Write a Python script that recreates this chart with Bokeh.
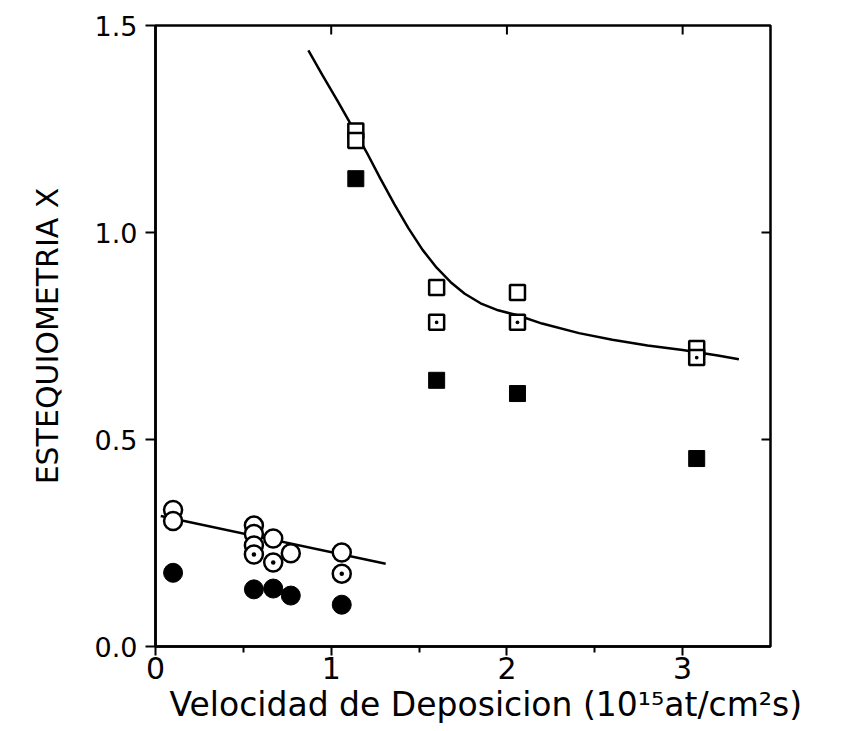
from bokeh.plotting import figure
from bokeh.models import Range1d, FixedTicker, Title
from bokeh.embed import file_html
from bokeh.resources import INLINE

# ---- data ----
open_circle_x = [0.10, 0.10, 0.56, 0.56, 0.56, 0.67, 0.77, 1.06]
open_circle_y = [0.330, 0.303, 0.292, 0.272, 0.244, 0.261, 0.225, 0.227]
dot_circle_x = [0.56, 0.67, 1.06]
dot_circle_y = [0.222, 0.203, 0.176]
filled_circle_x = [0.10, 0.56, 0.67, 0.77, 1.06]
filled_circle_y = [0.178, 0.138, 0.140, 0.123, 0.101]

open_square_x = [1.14, 1.14, 1.60, 2.06, 3.08]
open_square_y = [1.245, 1.222, 0.867, 0.855, 0.720]
dot_square_x = [1.60, 2.06, 3.08]
dot_square_y = [0.783, 0.783, 0.698]
filled_square_x = [1.14, 1.60, 2.06, 3.08]
filled_square_y = [1.130, 0.643, 0.611, 0.454]

# guide lines
lower_line_x = [0.03, 1.31]
lower_line_y = [0.315, 0.200]
curve_x = [0.87, 0.95, 1.04, 1.12, 1.20, 1.28, 1.36, 1.44, 1.52, 1.60, 1.68, 1.76,
           1.85, 1.95, 2.06, 2.20, 2.41, 2.60, 2.80, 3.00, 3.20, 3.32]
curve_y = [1.440, 1.380, 1.315, 1.255, 1.195, 1.130, 1.068, 1.010, 0.958, 0.915, 0.880, 0.852,
           0.829, 0.812, 0.800, 0.780, 0.757, 0.741, 0.727, 0.716, 0.703, 0.694]

x_ticks = [0, 1, 2, 3]
x_minor = [0.5, 1.5, 2.5]
top_ticks = [1, 2, 3]
y_ticks = [0.0, 0.5, 1.0, 1.5]
right_ticks = [0.5, 1.0]
y_tick_labels = {0.0: "0.0", 0.5: "0.5", 1.0: "1.0", 1.5: "1.5"}
x_title = "Velocidad de Deposicion (10\u00b9\u2075at/cm\u00b2s)"
y_title = "ESTEQUIOMETRIA X"

FONT = "DejaVu Sans"
X0, X1, Y0, Y1 = 0.0, 3.5, 0.0, 1.5

p = figure(width=854, height=731, x_range=Range1d(X0, X1), y_range=Range1d(Y0, Y1),
           output_backend="svg", toolbar_location=None,
           min_border_left=155, min_border_right=84, min_border_top=25, min_border_bottom=85)
p.grid.visible = False
p.outline_line_color = "black"
p.outline_line_width = 2.5
p.background_fill_color = "white"
p.border_fill_color = "white"

# bottom axis
xa = p.xaxis[0]
xa.ticker = FixedTicker(ticks=x_ticks, minor_ticks=x_minor)
xa.axis_line_width = 2.5
xa.major_tick_line_width = 2
xa.minor_tick_line_width = 2
xa.major_tick_out = 9
xa.major_tick_in = 0
xa.minor_tick_out = 6
xa.minor_tick_in = 0
xa.major_label_text_font = FONT
xa.major_label_text_font_size = "30px"
xa.major_label_standoff = 1
xa.major_label_text_color = "black"

# left axis
ya = p.yaxis[0]
ya.ticker = FixedTicker(ticks=y_ticks)
ya.major_label_overrides = y_tick_labels
ya.axis_line_width = 2.5
ya.major_tick_line_width = 2
ya.major_tick_out = 10
ya.major_tick_in = 0
ya.minor_tick_line_color = None
ya.major_label_text_font = FONT
ya.major_label_text_font_size = "27px"
ya.major_label_standoff = 8
ya.major_label_text_color = "black"
ya.axis_label = y_title
ya.axis_label_text_font = FONT
ya.axis_label_text_font_size = "30px"
ya.axis_label_text_font_style = "normal"
ya.axis_label_standoff = 27
ya.axis_label_text_color = "black"

# inward ticks on the top and right frame edges (lengths in data units ~9 px)
tx = 9 * (X1 - X0) / 615
ty = 9 * (Y1 - Y0) / 621
p.segment(x0=top_ticks, y0=[Y1] * len(top_ticks), x1=top_ticks,
          y1=[Y1 - ty] * len(top_ticks), line_color="black", line_width=2)
p.segment(x0=[X1] * len(right_ticks), y0=right_ticks, x1=[X1 - tx] * len(right_ticks),
          y1=right_ticks, line_color="black", line_width=2)

# guide lines
p.line(lower_line_x, lower_line_y, line_color="black", line_width=2.5)
p.line(curve_x, curve_y, line_color="black", line_width=2.5)

# markers
p.scatter(open_circle_x, open_circle_y, marker="circle", size=18,
          fill_color="white", line_color="black", line_width=2.5)
p.scatter(dot_circle_x, dot_circle_y, marker="circle_dot", size=18,
          fill_color="white", line_color="black", line_width=2.5)
p.scatter(filled_circle_x, filled_circle_y, marker="circle", size=19,
          fill_color="black", line_color="black", line_width=1)

p.scatter(open_square_x, open_square_y, marker="square", size=15,
          fill_color="white", line_color="black", line_width=2.5)
p.scatter(dot_square_x, dot_square_y, marker="square_dot", size=15,
          fill_color="white", line_color="black", line_width=2.5)
p.scatter(filled_square_x, filled_square_y, marker="square", size=16,
          fill_color="black", line_color="black", line_width=1)

# x axis title (placed below the axis, starting a little right of the frame's left edge)
p.add_layout(Title(text=x_title, align="left", offset=14, standoff=2,
                   text_font=FONT, text_font_size="33px", text_font_style="normal",
                   text_color="black"), "below")

open("out.html", "w").write(file_html(p, INLINE))
